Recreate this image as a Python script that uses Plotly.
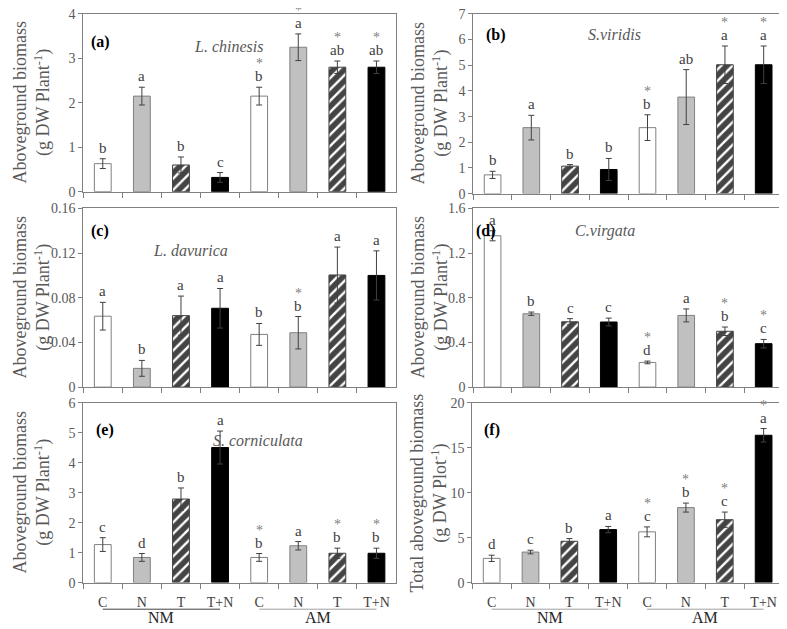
# Third-party.
import plotly.graph_objects as go
from plotly.subplots import make_subplots

# Treatments, NM group then AM group.
categories = ["NM C", "NM N", "NM T", "NM T+N", "AM C", "AM N", "AM T", "AM T+N"]
tick_labels = ["C", "N", "T", "T+N", "C", "N", "T", "T+N"]
groups = ["NM", "AM"]

# (a) L. chinesis
chinesis_mean = [0.63, 2.15, 0.60, 0.32, 2.15, 3.25, 2.80, 2.80]
chinesis_err = [0.11, 0.20, 0.18, 0.11, 0.20, 0.30, 0.14, 0.14]
chinesis_letters = ["b", "a", "b", "c", "b", "a", "ab", "ab"]
chinesis_star = [False, False, False, False, True, True, True, True]

# (b) S. viridis
viridis_mean = [0.73, 2.57, 1.07, 0.94, 2.57, 3.76, 5.02, 5.02]
viridis_err = [0.14, 0.48, 0.06, 0.43, 0.50, 1.07, 0.73, 0.73]
viridis_letters = ["b", "a", "b", "b", "b", "ab", "a", "a"]
viridis_star = [False, False, False, False, True, False, True, True]

# (c) L. davurica
davurica_mean = [0.0635, 0.0168, 0.064, 0.0706, 0.0472, 0.0487, 0.1004, 0.100]
davurica_err = [0.0124, 0.0071, 0.0175, 0.0177, 0.0098, 0.0145, 0.025, 0.022]
davurica_letters = ["a", "b", "a", "a", "b", "b", "a", "a"]
davurica_star = [False, False, False, False, False, True, False, False]

# (d) C. virgata
virgata_mean = [1.355, 0.657, 0.585, 0.583, 0.221, 0.642, 0.50, 0.389]
virgata_err = [0.045, 0.015, 0.028, 0.035, 0.012, 0.058, 0.038, 0.038]
virgata_letters = ["a", "b", "c", "c", "d", "a", "b", "c"]
virgata_star = [False, False, False, False, True, False, True, True]

# (e) S. corniculata
corniculata_mean = [1.27, 0.84, 2.79, 4.51, 0.84, 1.23, 0.98, 0.98]
corniculata_err = [0.23, 0.13, 0.37, 0.55, 0.13, 0.14, 0.17, 0.17]
corniculata_letters = ["c", "d", "b", "a", "b", "a", "b", "b"]
corniculata_star = [False, False, False, False, True, False, True, True]

# (f) Total aboveground biomass
total_mean = [2.7, 3.4, 4.6, 5.9, 5.65, 8.35, 7.0, 16.4]
total_err = [0.35, 0.20, 0.30, 0.35, 0.55, 0.50, 0.85, 0.75]
total_letters = ["d", "c", "b", "a", "c", "b", "c", "a"]
total_star = [False, False, False, False, True, True, True, True]

# Reference canvas size; the page body adds an 8 px margin, so the figure is
# drawn 8 px smaller and all positions are kept as fractions of the reference.
REF_W, REF_H = 787, 629
W, H = REF_W - 8, REF_H - 8
FONT = "Liberation Serif, Times New Roman, serif"

# Bar look per treatment.
fills = ["white", "#c0c0c0", "white", "black"] * 2
shapes = ["", "", "/", ""] * 2
outlines = ["#808080", "#808080", "#404040", "black"] * 2

plant_title = "Aboveground biomass<br>(g DW Plant<sup>-1</sup>)"
plot_title = "Total aboveground biomass<br>(g DW Plot<sup>-1</sup>)"

panels = [
    dict(mean=chinesis_mean, err=chinesis_err, letters=chinesis_letters, star=chinesis_star,
         tag="(a)", species="<i>L. chinesis</i>", sp_xy=(0.465, 0.878), tag_xy=(0.02, 0.906),
         yr=[0, 4], dt=1, px=(76, 392, 6, 186), title=plant_title, tx=24),
    dict(mean=viridis_mean, err=viridis_err, letters=viridis_letters, star=viridis_star,
         tag="(b)", species="<i>S.viridis</i>", sp_xy=(0.457, 0.945), tag_xy=(0.036, 0.945),
         yr=[0, 7], dt=1, px=(470, 783, 6, 188), title=plant_title, tx=426),
    dict(mean=davurica_mean, err=davurica_err, letters=davurica_letters, star=davurica_star,
         tag="(c)", species="<i>L. davurica</i>", sp_xy=(0.218, 0.823), tag_xy=(0.02, 0.934),
         yr=[0, 0.16], dt=0.04, px=(76, 392, 203, 384), title=plant_title, tx=24),
    dict(mean=virgata_mean, err=virgata_err, letters=virgata_letters, star=virgata_star,
         tag="(d)", species="<i>C.virgata</i>", sp_xy=(0.425, 0.934), tag_xy=(0.004, 0.934),
         yr=[0, 1.6], dt=0.4, px=(470, 783, 203, 384), title=plant_title, tx=426),
    dict(mean=corniculata_mean, err=corniculata_err, letters=corniculata_letters, star=corniculata_star,
         tag="(e)", species="<i>S. corniculata</i>", sp_xy=(0.709, 0.852), tag_xy=(0.034, 0.912),
         yr=[0, 6], dt=1, px=(76, 392, 400, 582), title=plant_title, tx=24),
    dict(mean=total_mean, err=total_err, letters=total_letters, star=total_star,
         tag="(f)", species="", sp_xy=(0.5, 0.9), tag_xy=(0.03, 0.912),
         yr=[0, 20], dt=5, px=(469, 783, 400, 582), title=plot_title, tx=425),
]

fig = make_subplots(rows=3, cols=2)

for k, p in enumerate(panels):
    row, col = k // 2 + 1, k % 2 + 1
    n = k + 1
    xa = "x" if n == 1 else f"x{n}"
    ya = "y" if n == 1 else f"y{n}"

    fig.add_trace(
        go.Bar(
            x=categories,
            y=p["mean"],
            width=0.43,
            marker=dict(
                color=fills,
                line=dict(color=outlines, width=1),
                pattern=dict(shape=shapes, fgcolor="black", fgopacity=1, size=8, solidity=0.7),
            ),
            error_y=dict(type="data", array=p["err"], color="#404040", thickness=1, width=3),
            showlegend=False,
        ),
        row=row, col=col,
    )

    x0, x1, y0, y1 = p["px"]
    bottom_row = row == 3
    fig.update_xaxes(
        domain=[x0 / REF_W, x1 / REF_W],
        automargin=False,
        type="category",
        categoryorder="array",
        categoryarray=categories,
        range=[-0.5, 7.5],
        tickvals=categories,
        ticktext=tick_labels,
        showticklabels=bottom_row,
        tickson="boundaries",
        ticks="outside",
        ticklen=5,
        tickcolor="#808080",
        ticklabelstandoff=7,
        linecolor="#808080",
        mirror=True,
        showgrid=False,
        tickfont=dict(family=FONT, size=14, color="#404040"),
        row=row, col=col,
    )
    fig.update_yaxes(
        domain=[1 - y1 / REF_H, 1 - y0 / REF_H],
        automargin=False,
        range=p["yr"],
        dtick=p["dt"],
        tick0=0,
        ticks="outside",
        ticklen=4,
        tickcolor="#808080",
        ticklabeloverflow="allow",
        linecolor="#808080",
        mirror=True,
        showgrid=False,
        zeroline=False,
        tickfont=dict(family=FONT, size=14, color="#595959"),
        row=row, col=col,
    )

    # Y title, two lines, placed at the same x for each column.
    fig.add_annotation(
        x=p["tx"] / REF_W, y=1 - (y0 + y1) / 2 / REF_H, xref="paper", yref="paper",
        xanchor="center", yanchor="middle",
        text=p["title"], textangle=-90, showarrow=False,
        font=dict(family=FONT, size=18, color="#595959"),
    )

    # Significance letters and asterisks above the error bars.
    for cat, m, e, lt, st in zip(categories, p["mean"], p["err"], p["letters"], p["star"]):
        fig.add_annotation(
            x=cat, y=m + e, xref=xa, yref=ya, text=lt, showarrow=False,
            yanchor="bottom", yshift=1,
            font=dict(family=FONT, size=15, color="#404040"),
        )
        if st:
            fig.add_annotation(
                x=cat, y=m + e, xref=xa, yref=ya, text="*", showarrow=False,
                yanchor="bottom", yshift=14,
                font=dict(family=FONT, size=14, color="#808080"),
            )

    # Panel tag and species name.
    fig.add_annotation(
        x=p["tag_xy"][0], y=p["tag_xy"][1], xref=f"{xa} domain", yref=f"{ya} domain",
        text=f"<b>{p['tag']}</b>", showarrow=False, xanchor="left",
        font=dict(family=FONT, size=16, color="black"),
    )
    if p["species"]:
        fig.add_annotation(
            x=p["sp_xy"][0], y=p["sp_xy"][1], xref=f"{xa} domain", yref=f"{ya} domain",
            text=p["species"], showarrow=False,
            font=dict(family=FONT, size=16, color="#595959"),
        )

    # Group underlines and NM / AM labels on the bottom row.
    if bottom_row:
        for g, grp in enumerate(groups):
            color = "#404040" if (n == 5 and grp == "NM") else "#a0a0a0"
            fig.add_shape(
                type="line", xref=xa, yref=f"{ya} domain",
                x0=4 * g, x1=4 * g + 3, y0=-0.148, y1=-0.148,
                line=dict(color=color, width=1),
            )
            fig.add_annotation(
                x=4 * g + 1.5, y=-0.195, xref=xa, yref=f"{ya} domain",
                text=grp, showarrow=False, yanchor="middle",
                font=dict(family=FONT, size=16, color="#262626"),
            )

fig.update_layout(
    width=W,
    height=H,
    margin=dict(l=0, r=0, t=0, b=0),
    plot_bgcolor="white",
    paper_bgcolor="white",
)

fig.write_html("out.html")
